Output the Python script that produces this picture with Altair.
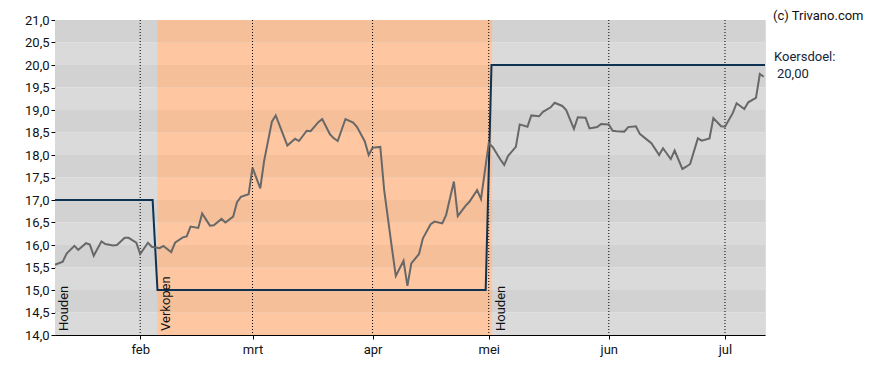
import altair as alt
import pandas as pd

# ---------------- data ----------------
price_dates = [
    "01-10", "01-12", "01-13", "01-15", "01-16", "01-18", "01-19", "01-20", "01-22", "01-23",
    "01-25", "01-26", "01-28", "01-29", "01-31",
    "02-01", "02-03", "02-04", "02-06", "02-07", "02-09", "02-10", "02-12", "02-13", "02-14",
    "02-16", "02-17", "02-19", "02-20", "02-22", "02-23", "02-25", "02-26", "02-27", "02-29",
    "03-01", "03-03", "03-04", "03-06", "03-07", "03-10", "03-12", "03-13", "03-15", "03-16",
    "03-18", "03-19", "03-21", "03-22", "03-23", "03-25", "03-27", "03-28", "03-30", "03-31",
    "04-01", "04-03", "04-04", "04-06", "04-07", "04-09", "04-10", "04-11", "04-13", "04-14",
    "04-16", "04-17", "04-19", "04-20", "04-22", "04-23", "04-25", "04-26", "04-28", "04-29",
    "05-01", "05-02", "05-04", "05-05", "05-06", "05-08", "05-09", "05-11", "05-12", "05-14",
    "05-15", "05-17", "05-18", "05-20", "05-21", "05-23", "05-24", "05-26", "05-27", "05-29", "05-30",
    "06-01", "06-02", "06-03", "06-05", "06-06", "06-08", "06-09", "06-11", "06-12", "06-14",
    "06-15", "06-17", "06-18", "06-20", "06-21", "06-22", "06-24", "06-25", "06-27", "06-28", "06-30",
    "07-01", "07-03", "07-04", "07-06", "07-07", "07-09", "07-10", "07-11",
]
price_values = [
    15.56, 15.63, 15.81, 15.98, 15.89, 16.04, 16.01, 15.76, 16.08, 16.02,
    15.99, 16.00, 16.16, 16.16, 16.05,
    15.80, 16.05, 15.96, 15.93, 15.98, 15.84, 16.05, 16.17, 16.19, 16.41,
    16.38, 16.70, 16.43, 16.44, 16.58, 16.50, 16.63, 16.95, 17.07, 17.13,
    17.72, 17.26, 17.87, 18.74, 18.88, 18.21, 18.36, 18.31, 18.54, 18.53,
    18.73, 18.80, 18.46, 18.37, 18.31, 18.80, 18.72, 18.62, 18.30, 18.00,
    18.16, 18.18, 17.22, 15.93, 15.31, 15.65, 15.09, 15.59, 15.80, 16.15,
    16.46, 16.52, 16.48, 16.67, 17.41, 16.64, 16.87, 16.96, 17.22, 17.02,
    18.26, 18.18, 17.90, 17.78, 17.98, 18.18, 18.68, 18.63, 18.88, 18.86,
    18.96, 19.06, 19.16, 19.09, 19.00, 18.58, 18.84, 18.83, 18.59, 18.62, 18.69,
    18.68, 18.54, 18.53, 18.52, 18.62, 18.64, 18.47, 18.33, 18.26, 18.00,
    18.15, 17.91, 18.10, 17.69, 17.74, 17.80, 18.37, 18.32, 18.37, 18.82, 18.64,
    18.63, 18.93, 19.15, 19.02, 19.17, 19.27, 19.80, 19.74,
]

target_dates = ["2024-01-10T00:00", "2024-02-04T05:00", "2024-02-05T11:00",
                "2024-04-30T05:00", "2024-05-01T17:00", "2024-07-11T08:00"]
target_values = [17.0, 17.0, 15.0, 15.0, 20.0, 20.0]

advice_dates = ["2024-01-10T00:00", "2024-02-05T11:00", "2024-05-01T21:00"]
advice_labels = ["Houden", "Verkopen", "Houden"]
sell_start = "2024-02-05T11:00"
sell_end = "2024-05-01T21:00"

month_starts = ["2024-02-01", "2024-03-01", "2024-04-01", "2024-05-01", "2024-06-01", "2024-07-01"]
month_names = ["jan", "feb", "mrt", "apr", "mei", "jun", "jul", "aug", "sep", "okt", "nov", "dec"]
y_ticks = [14.0, 14.5, 15.0, 15.5, 16.0, 16.5, 17.0, 17.5, 18.0, 18.5, 19.0, 19.5, 20.0, 20.5, 21.0]

target_title = "Koersdoel:"
target_text = "20,00"
copyright_text = "(c) Trivano.com"

# ---------------- tables ----------------
FONT = "Roboto"
to_dt = lambda lst: pd.to_datetime(lst, format="ISO8601")
price_df = pd.DataFrame({"date": to_dt(["2024-" + d for d in price_dates]),
                         "koers": price_values})
target_df = pd.DataFrame({"date": to_dt(target_dates), "doel": target_values})
advice_df = pd.DataFrame({"date": to_dt(advice_dates), "label": advice_labels})
months_df = pd.DataFrame({"date": to_dt(month_starts)})

gray_cols = ["#dadada", "#d2d2d2"]
orange_cols = ["#fec7a1", "#f5bf99"]
bands_df = pd.DataFrame({
    "lo": y_ticks[:-1],
    "hi": y_ticks[1:],
    "gray": [gray_cols[i % 2] for i in range(len(y_ticks) - 1)],
    "orange": [orange_cols[i % 2] for i in range(len(y_ticks) - 1)],
})
bands_df["xs"] = pd.Timestamp(sell_start)
bands_df["xe"] = pd.Timestamp(sell_end)

# ---------------- scales & axes ----------------
x_scale = alt.Scale(domain=[alt.DateTime(year=2024, month=1, date=10),
                            alt.DateTime(year=2024, month=7, date=11, hours=8)], nice=False)
y_scale = alt.Scale(domain=[14, 21], nice=False, zero=False)

month_arr = "[" + ",".join("'%s'" % m for m in month_names) + "]"
x_axis = alt.Axis(
    values=[alt.DateTime(year=2024, month=int(m[5:7]), date=1) for m in month_starts],
    labelExpr=month_arr + "[month(datum.value)]",
    title=None, grid=False, tickSize=4, labelPadding=4,
    labelFont=FONT, labelFontSize=13, labelColor="#111111",
    domainColor="#000000", tickColor="#000000",
)
y_axis = alt.Axis(
    values=y_ticks,
    labelExpr="replace(format(datum.value, '.1f'), '.', ',')",
    title=None, grid=False, tickSize=4, labelPadding=2,
    labelFont=FONT, labelFontSize=13, labelColor="#111111",
    domainColor="#000000", tickColor="#000000",
)

X = lambda f: alt.X(f, scale=x_scale, axis=x_axis, title=None)
Y = lambda f: alt.Y(f, scale=y_scale, axis=y_axis, title=None)

# ---------------- layers ----------------
gray_bands = alt.Chart(bands_df).mark_rect().encode(
    y=Y("lo:Q"), y2="hi:Q", color=alt.Color("gray:N", scale=None)
)
orange_bands = alt.Chart(bands_df).mark_rect().encode(
    x=X("xs:T"), x2="xe:T", y=Y("lo:Q"), y2="hi:Q", color=alt.Color("orange:N", scale=None)
)
month_rules = alt.Chart(months_df).mark_rule(
    color="#000000", strokeWidth=1, strokeDash=[1, 2]
).encode(x=X("date:T"))

target_line = alt.Chart(target_df).mark_line(
    color="#0e3252", strokeWidth=2
).encode(x=X("date:T"), y=Y("doel:Q"))

price_line = alt.Chart(price_df).mark_line(
    color="#686868", strokeWidth=2
).encode(x=X("date:T"), y=Y("koers:Q"))

advice_text = alt.Chart(advice_df).mark_text(
    angle=270, align="left", baseline="top", dy=3, dx=0,
    font=FONT, fontSize=13, color="#111111"
).encode(x=X("date:T"), y=alt.value(311), text="label:N")

right_title = alt.Chart(pd.DataFrame({"t": [target_title]})).mark_text(
    align="left", baseline="middle", font=FONT, fontSize=13, color="#14263a"
).encode(x=alt.value(719), y=alt.value(37), text="t:N")

right_value = alt.Chart(pd.DataFrame({"t": [target_text]})).mark_text(
    align="left", baseline="middle", font=FONT, fontSize=13, color="#14263a"
).encode(x=alt.value(722), y=alt.value(54), text="t:N")

copyright_mark = alt.Chart(pd.DataFrame({"t": [copyright_text]})).mark_text(
    align="left", baseline="top", font=FONT, fontSize=13, color="#111111"
).encode(x=alt.value(718), y=alt.value(-10), text="t:N")

chart = alt.layer(
    gray_bands, orange_bands, month_rules, target_line, price_line,
    advice_text, right_title, right_value, copyright_mark
).properties(
    width=710, height=315,
    autosize=alt.AutoSizeParams(type="none"),
    padding={"left": 47, "top": 12, "right": 115, "bottom": 27},
).configure_view(
    stroke="#000000", strokeWidth=1
).configure(background="#ffffff")

chart.save("out.html", embed_options={"renderer": "svg", "actions": False})
